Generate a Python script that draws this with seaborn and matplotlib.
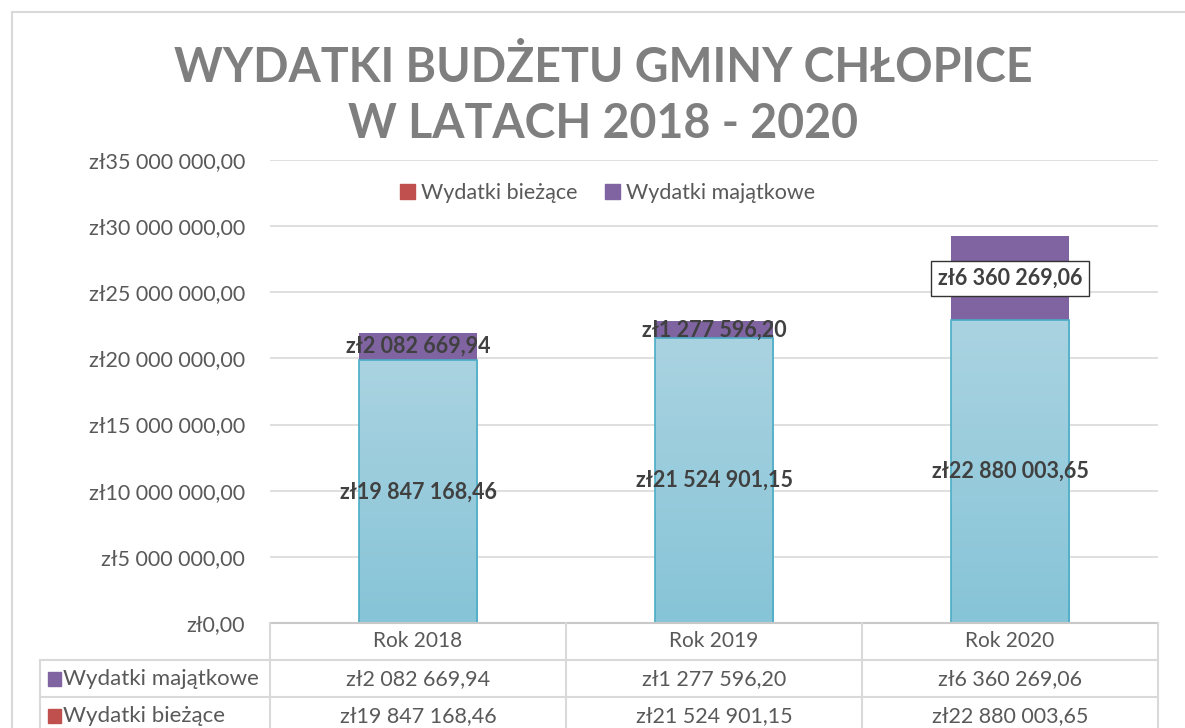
import numpy as np
import pandas as pd
import seaborn as sns
import matplotlib.pyplot as plt
from matplotlib.patches import Rectangle
from matplotlib.transforms import blended_transform_factory

years = ["Rok 2018", "Rok 2019", "Rok 2020"]
biezace = [19847168.46, 21524901.15, 22880003.65]
majatkowe = [2082669.94, 1277596.20, 6360269.06]
series_names = ["Wydatki bieżące", "Wydatki majątkowe"]
y_ticks = [0, 5e6, 10e6, 15e6, 20e6, 25e6, 30e6, 35e6]
title = "WYDATKI BUDŻETU GMINY CHŁOPICE\nW LATACH 2018 - 2020"

PURPLE = "#8064a2"
RED = "#c0504d"
BLUE_EDGE = "#4bacc6"
TXT = "#595959"
GRID = "#d9d9d9"


def zl(v):
    return "zł" + f"{v:,.2f}".replace(",", " ").replace(".", ",")


sns.set_style("white")
plt.rcParams["font.family"] = ["Lato", "DejaVu Sans"]

W, H = 1185, 728
fig = plt.figure(figsize=(W / 100, H / 100), dpi=100)
ax = fig.add_axes([270 / W, 1 - 623 / H, 888 / W, 463 / H])


def fx(x):
    return x / W


def fy(y):
    return 1 - y / H


# outer chart border
fig.add_artist(plt.Line2D([fx(12), fx(12)], [fy(12), 0], color=GRID, lw=1.5))
fig.add_artist(plt.Line2D([fx(12), 1], [fy(12), fy(12)], color=GRID, lw=1.5))

df = pd.DataFrame({"rok": years, "biezace": biezace, "majatkowe": majatkowe})
df["razem"] = df["biezace"] + df["majatkowe"]

sns.barplot(data=df, x="rok", y="razem", color=PURPLE, saturation=1,
            width=0.4, linewidth=0, ax=ax)
n0 = len(ax.patches)
sns.barplot(data=df, x="rok", y="biezace", color="#9fcfde", saturation=1,
            width=0.4, edgecolor=BLUE_EDGE, linewidth=1.2, ax=ax)

xlim = ax.get_xlim()
ylim = (0, 35e6)
grad = np.linspace(0, 1, 100).reshape(-1, 1)
cmap = sns.blend_palette(["#86c4d7", "#aad3e1"], as_cmap=True)
for p in ax.patches[n0:]:
    x0, y0 = p.get_x(), p.get_y()
    im = ax.imshow(grad, extent=(x0, x0 + p.get_width(), y0, y0 + p.get_height()),
                   origin="lower", aspect="auto", cmap=cmap, zorder=1.5)
    im.set_clip_path(p)
    p.set_facecolor("none")
    p.set_zorder(2)
ax.set_xlim(xlim)
ax.set_ylim(ylim)

# data labels
for i, (b, m) in enumerate(zip(biezace, majatkowe)):
    ax.text(i, b / 2, zl(b), ha="center", va="center", fontsize=15.5,
            fontweight="bold", color="#404040", zorder=5)
    kw = {}
    if i == 2:
        kw["bbox"] = dict(facecolor="white", edgecolor="#333333", lw=1, pad=5)
    ax.text(i, b + m / 2, zl(m), ha="center", va="center", fontsize=15.5,
            fontweight="bold", color="#404040", zorder=5, **kw)

ax.set_axisbelow(True)
ax.yaxis.grid(True, color=GRID, lw=1.2)
ax.set_yticks(y_ticks)
ax.set_yticklabels([zl(v) for v in y_ticks])
ax.tick_params(axis="y", length=0, pad=18, labelsize=15.5, labelcolor=TXT)
ax.tick_params(axis="x", length=0, labelbottom=False)
ax.set_xlabel("")
ax.set_ylabel("")
for s in ["top", "left", "right"]:
    ax.spines[s].set_visible(False)
ax.spines["bottom"].set_color("#c8c8c8")
ax.spines["bottom"].set_linewidth(1.5)

handles = [Rectangle((0, 0), 1, 1, color=RED), Rectangle((0, 0), 1, 1, color=PURPLE)]
ax.legend(handles, series_names, loc="center", bbox_to_anchor=(0.38, 0.929),
          ncol=2, frameon=False, fontsize=15.5, handlelength=0.7, handleheight=0.7,
          handletextpad=0.25, columnspacing=1.3, labelcolor=TXT)

fig.text(0.509, fy(82), title.split("\n")[0], ha="center", va="baseline",
         fontsize=33.5, fontweight="bold", color="#7f7f7f")
fig.text(0.509, fy(138), title.split("\n")[1], ha="center", va="baseline",
         fontsize=33.5, fontweight="bold", color="#7f7f7f")

# data table
tc = blended_transform_factory(ax.transData, fig.transFigure)
line_kw = dict(color=GRID, lw=1.5)
for yy in [660, 697]:
    fig.add_artist(plt.Line2D([fx(40), ax.get_position().x1], [fy(yy), fy(yy)], **line_kw))
fig.add_artist(plt.Line2D([fx(40), fx(40)], [fy(660), 0], **line_kw))
for k in range(len(years) + 1):
    xb = k - 0.5
    fig.add_artist(plt.Line2D([xb, xb], [fy(623), 0], transform=tc, **line_kw))

for i, yr in enumerate(years):
    fig.text(i, fy(641), yr, transform=tc, ha="center", va="center",
             fontsize=15, color=TXT)
    fig.text(i, fy(679), zl(majatkowe[i]), transform=tc, ha="center", va="center",
             fontsize=15.5, color=TXT)
    fig.text(i, fy(716), zl(biezace[i]), transform=tc, ha="center", va="center",
             fontsize=15.5, color=TXT)

for yy, name, col in [(679, series_names[1], PURPLE), (716, series_names[0], RED)]:
    fig.add_artist(Rectangle((fx(48), fy(yy) - 7 / H), 13 / W, 14 / H, color=col,
                             transform=fig.transFigure))
    fig.text(fx(63), fy(yy), name, ha="left", va="center", fontsize=16, color=TXT)

fig.savefig("out.png", dpi=100)
